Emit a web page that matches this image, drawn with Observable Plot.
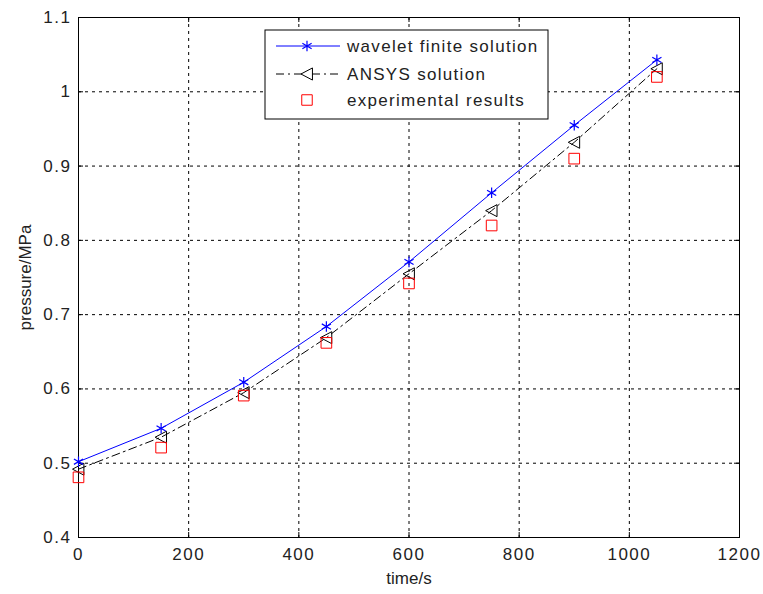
<!DOCTYPE html>
<html><head><meta charset="utf-8">
<script src="https://cdn.jsdelivr.net/npm/d3@7"></script>
<script src="https://cdn.jsdelivr.net/npm/@observablehq/plot@0.6"></script>
<style>body{margin:0;background:#fff;} #c{position:relative;width:763px;height:594px;}</style>
</head><body><div id="c"></div>
<script>
const times = [0,150,300,450,600,750,900,1050];
const wavelet = [0.502,0.547,0.609,0.684,0.771,0.864,0.955,1.043];
const ansys = [0.492,0.535,0.595,0.669,0.755,0.840,0.932,1.031];
const experimental = [0.481,0.521,0.591,0.662,0.742,0.820,0.910,1.020];
const xTicks = [0,200,400,600,800,1000,1200];
const yTicks = [0.4,0.5,0.6,0.7,0.8,0.9,1,1.1];
const legendLabels = ["wavelet finite solution","ANSYS solution","experimental results"];

const W = times.map((t,i)=>({t, v: wavelet[i]}));
const A = times.map((t,i)=>({t, v: ansys[i]}));
const E = times.map((t,i)=>({t, v: experimental[i]}));

const triLeft = {draw(ctx, size){const r=Math.sqrt(size/Math.PI)*1.2; ctx.moveTo(-r,0); ctx.lineTo(r*0.9,-r); ctx.lineTo(r*0.9,r); ctx.closePath();}};
const font = "Liberation Sans, Arial, sans-serif";
const tl = 5/ (537-17) * 0.7; // inward tick length in y units
const tx = 5/ (739-78) * 1200;

const plot = Plot.plot({
  width: 763, height: 594,
  marginLeft: 78, marginRight: 24, marginTop: 17, marginBottom: 57,
  style: {fontFamily: font, fontSize: "17px", color: "#222", background: "#fff"},
  x: {domain: [0,1200], ticks: xTicks},
  y: {domain: [0.4,1.1], ticks: yTicks},
  marks: [
    Plot.gridX(xTicks.slice(1,-1), {stroke: "#000", strokeOpacity: 1, strokeDasharray: "3,4"}),
    Plot.gridY(yTicks.slice(1,-1), {stroke: "#000", strokeOpacity: 1, strokeDasharray: "3,4"}),
    Plot.ruleX(xTicks, {y1: 0.4, y2: 0.4+tl, stroke: "#000"}),
    Plot.ruleX(xTicks, {y1: 1.1, y2: 1.1-tl, stroke: "#000"}),
    Plot.ruleY(yTicks, {x1: 0, x2: tx, stroke: "#000"}),
    Plot.ruleY(yTicks, {x1: 1200, x2: 1200-tx, stroke: "#000"}),
    Plot.frame({stroke: "#000"}),
    Plot.axisX(xTicks, {tickSize: 0, tickPadding: 10, fontSize: 17, label: "time/s", labelAnchor: "center", labelArrow: "none", labelOffset: 46, tickFormat: d=>String(d)}),
    Plot.axisY(yTicks, {tickSize: 0, tickPadding: 7, fontSize: 17, label: "pressure/MPa", labelAnchor: "center", labelArrow: "none", labelOffset: 60, tickFormat: d=>String(d)}),
    Plot.line(A, {x: "t", y: "v", stroke: "#000", strokeWidth: 1, strokeDasharray: "8,4,2,4"}),
    Plot.dot(A, {x: "t", y: "v", symbol: triLeft, r: 5, stroke: "#000", fill: "none", strokeWidth: 1}),
    Plot.line(W, {x: "t", y: "v", stroke: "#0000ff", strokeWidth: 1}),
    Plot.dot(W, {x: "t", y: "v", symbol: "asterisk", r: 5, stroke: "#0000ff", strokeWidth: 1.2}),
    Plot.dot(E, {x: "t", y: "v", symbol: "square", r: 6, stroke: "#ff0000", fill: "none", strokeWidth: 1})
  ]
});
document.getElementById("c").appendChild(plot);
d3.select(plot).selectAll("g[aria-label='x-axis tick label'] text, g[aria-label='y-axis tick label'] text").attr("letter-spacing", "1.5px");

// legend box
const svg = d3.select(plot);
const g = svg.append("g").attr("font-family", font).attr("font-size", 17).attr("text-anchor", "start");
g.append("rect").attr("x",265).attr("y",30).attr("width",283).attr("height",89).attr("fill","#fff").attr("stroke","#000");
const rowY = [46,74,100];
// row 1
g.append("line").attr("x1",276).attr("x2",340).attr("y1",rowY[0]).attr("y2",rowY[0]).attr("stroke","#0000ff");
g.append("path").attr("transform",`translate(307,${rowY[0]})`).attr("d", d3.symbol(d3.symbolAsterisk, 80)()).attr("stroke","#0000ff").attr("fill","none").attr("stroke-width",1.2);
// row 2
g.append("line").attr("x1",276).attr("x2",340).attr("y1",rowY[1]).attr("y2",rowY[1]).attr("stroke","#000").attr("stroke-dasharray","8,4,2,4");
g.append("path").attr("transform",`translate(307,${rowY[1]})`).attr("d", d3.symbol(triLeft, 80)()).attr("stroke","#000").attr("fill","#fff");
// row 3
g.append("path").attr("transform",`translate(307,${rowY[2]})`).attr("d", d3.symbol(d3.symbolSquare, 110)()).attr("stroke","#ff0000").attr("fill","none");
legendLabels.forEach((s,i)=>{
  g.append("text").attr("x",347).attr("y",rowY[i]).attr("dy","0.35em").attr("fill","#222").attr("letter-spacing","1.3px").text(s);
});
</script></body></html>
